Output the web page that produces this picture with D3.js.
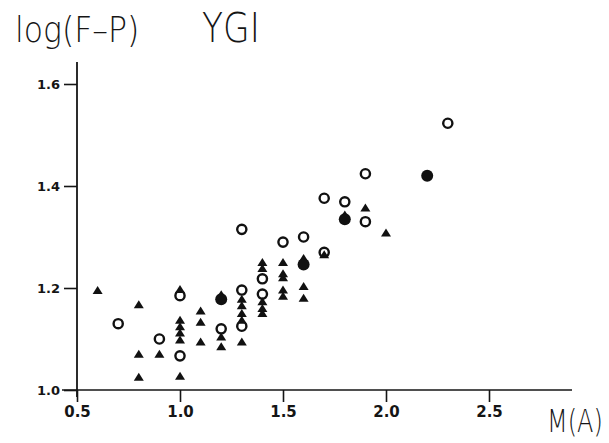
<!DOCTYPE html>
<html>
<head>
<meta charset="utf-8">
<script src="https://cdn.jsdelivr.net/npm/d3@7"></script>
<style>
  body { margin: 0; background: #fff; }
  svg { display: block; }
  .tick text { font-family: "DejaVu Sans", sans-serif; font-weight: bold; fill: #151515; }
  .tick line { stroke: #151515; stroke-width: 1.6; }
  .title { font-family: "DejaVu Sans", sans-serif; font-weight: 300; fill: #151515; }
</style>
</head>
<body>
<script>
// x = M(A), y = log(F-P)
const openCircles = [
  [0.7, 1.13], [0.9, 1.10], [1.0, 1.067], [1.0, 1.185], [1.2, 1.12],
  [1.3, 1.315], [1.3, 1.196], [1.3, 1.125], [1.4, 1.218], [1.4, 1.188],
  [1.5, 1.29], [1.6, 1.30], [1.7, 1.376], [1.7, 1.27], [1.8, 1.369],
  [1.9, 1.424], [1.9, 1.33], [2.3, 1.523]
];
const filledCircles = [
  [1.2, 1.178], [1.6, 1.246], [1.8, 1.335], [2.2, 1.42]
];
const triangles = [
  [0.6, 1.195], [0.8, 1.167], [0.8, 1.07], [0.8, 1.025], [0.9, 1.07],
  [1.0, 1.027], [1.0, 1.197], [1.0, 1.137], [1.0, 1.124], [1.0, 1.112], [1.0, 1.098],
  [1.1, 1.155], [1.1, 1.133], [1.1, 1.094],
  [1.2, 1.187], [1.2, 1.104], [1.2, 1.085],
  [1.3, 1.178], [1.3, 1.165], [1.3, 1.15], [1.3, 1.137], [1.3, 1.094],
  [1.4, 1.25], [1.4, 1.238], [1.4, 1.173], [1.4, 1.16], [1.4, 1.15],
  [1.5, 1.25], [1.5, 1.228], [1.5, 1.22], [1.5, 1.196], [1.5, 1.184],
  [1.6, 1.258], [1.6, 1.203], [1.6, 1.18],
  [1.7, 1.265], [1.8, 1.343], [1.9, 1.357], [2.0, 1.308]
];
const xTicks = [0.5, 1.0, 1.5, 2.0, 2.5];
const yTicks = [1.0, 1.2, 1.4, 1.6];

const width = 609, height = 443;
const svg = d3.select("body").append("svg")
  .attr("width", width).attr("height", height);

const x = d3.scaleLinear().domain([0.5, 2.5]).range([77, 489]);
const y = d3.scaleLinear().domain([1.0, 1.6]).range([390, 84]);

// axes
svg.append("g")
  .attr("transform", "translate(77,0)")
  .call(d3.axisLeft(y).tickValues(yTicks).tickFormat(d3.format(".1f"))
    .tickSize(13).tickPadding(4).tickSizeOuter(0))
  .call(g => g.select(".domain").remove())
  .call(g => g.selectAll(".tick text").attr("font-size", 13));

svg.append("g")
  .attr("transform", "translate(0,390)")
  .call(d3.axisBottom(x).tickValues(xTicks).tickFormat(d3.format(".1f"))
    .tickSize(12).tickPadding(4).tickSizeOuter(0))
  .call(g => g.select(".domain").remove())
  .call(g => g.selectAll(".tick text").attr("font-size", 15));

svg.append("line")
  .attr("x1", 77).attr("x2", 77).attr("y1", 62).attr("y2", 397)
  .attr("stroke", "#151515").attr("stroke-width", 1.8);
svg.append("line")
  .attr("x1", 62).attr("x2", 572).attr("y1", 390).attr("y2", 390)
  .attr("stroke", "#151515").attr("stroke-width", 1.6);

// titles (plotter lettering is narrow, so squeeze horizontally)
svg.append("text").attr("class", "title")
  .attr("transform", "translate(15,42) scale(0.9,1)")
  .attr("font-size", 35)
  .text("log(F\u2013P)");
svg.append("text").attr("class", "title")
  .attr("transform", "translate(202,42) scale(0.86,1)")
  .attr("font-size", 40)
  .text("YGI");
svg.append("text").attr("class", "title")
  .attr("transform", "translate(547,432) scale(0.75,1)")
  .attr("font-size", 32)
  .text("M(A)");

// marks
svg.append("g").selectAll("path")
  .data(triangles)
  .join("path")
  .attr("transform", d => `translate(${x(d[0])},${y(d[1])})`)
  .attr("d", "M0,-4.5 L5,3.5 L-5,3.5 Z")
  .attr("fill", "#111");

svg.append("g").selectAll("circle")
  .data(filledCircles)
  .join("circle")
  .attr("cx", d => x(d[0])).attr("cy", d => y(d[1]))
  .attr("r", 6)
  .attr("fill", "#111");

svg.append("g").selectAll("circle")
  .data(openCircles)
  .join("circle")
  .attr("cx", d => x(d[0])).attr("cy", d => y(d[1]))
  .attr("r", 4.6)
  .attr("fill", "none")
  .attr("stroke", "#111")
  .attr("stroke-width", 2.4);
</script>
</body>
</html>
